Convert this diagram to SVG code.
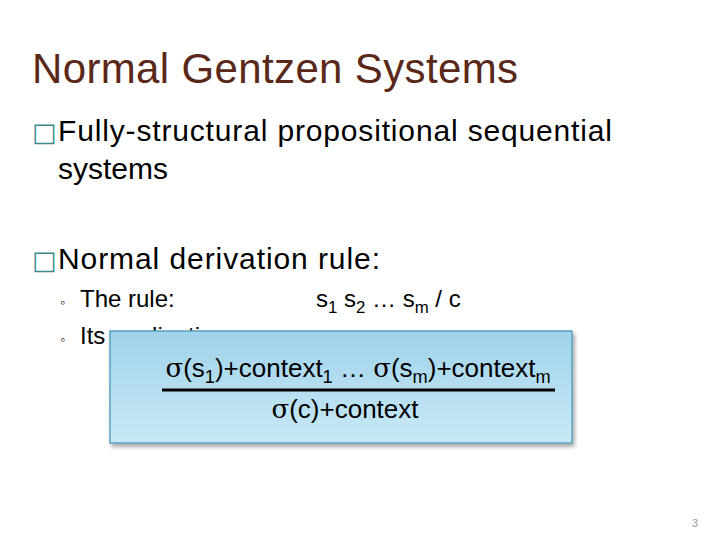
<svg xmlns="http://www.w3.org/2000/svg" width="720" height="540" viewBox="0 0 720 540">
<style>
text{font-family:"Liberation Sans",Arial,sans-serif;fill:#000}
.b{font-size:30px}
.s{font-size:24px}
.q{fill:#3b8a8c}
.sub{font-size:70%}
</style>
<defs>
<linearGradient id="g" x1="0" y1="0" x2="0" y2="1"><stop offset="0" stop-color="#9fd3ea"/><stop offset="1" stop-color="#c9e9f6"/></linearGradient>
<filter id="sh" x="-5%" y="-5%" width="115%" height="120%"><feDropShadow dx="2" dy="3" stdDeviation="2" flood-opacity="0.35"/></filter>
</defs>
<rect width="720" height="540" fill="#fff"/>
<text x="32" y="83" textLength="486" style="font-size:42px;fill:#5a2818">Normal Gentzen Systems</text>
<text class="b" x="32" y="141"><tspan class="q" font-family="DejaVu Sans" font-size="26px">□</tspan><tspan x="58" textLength="554">Fully-structural propositional sequential</tspan></text>
<text class="b" x="58" y="179">systems</text>
<text class="b" x="32" y="269"><tspan class="q" font-family="DejaVu Sans" font-size="26px">□</tspan><tspan x="58" textLength="322">Normal derivation rule:</tspan></text>
<text class="s" x="60" y="307"><tspan font-size="14px">◦</tspan><tspan x="80">The rule:</tspan></text>
<text class="s" x="316" y="307">s<tspan class="sub" dy="6">1</tspan><tspan dy="-6"> s</tspan><tspan class="sub" dy="6">2</tspan><tspan dy="-6"> … s</tspan><tspan class="sub" dy="6">m</tspan><tspan dy="-6"> / c</tspan></text>
<text class="s" x="60" y="344"><tspan font-size="14px">◦</tspan><tspan x="80">Its application:</tspan></text>
<g id="box">
<rect x="110" y="331" width="462" height="112" fill="url(#g)" stroke="#5aa3c0" stroke-width="1.5" filter="url(#sh)"/>
<text x="358" y="377" text-anchor="middle" style="font-size:26px"><tspan font-family="DejaVu Serif">σ</tspan>(s<tspan class="sub" dy="6">1</tspan><tspan dy="-6">)+context</tspan><tspan class="sub" dy="6">1</tspan><tspan dy="-6"> … </tspan><tspan font-family="DejaVu Serif">σ</tspan>(s<tspan class="sub" dy="6">m</tspan><tspan dy="-6">)+context</tspan><tspan class="sub" dy="6">m</tspan></text>
<line x1="162" y1="390" x2="555" y2="390" stroke="#000" stroke-width="3"/>
<text x="345" y="418" text-anchor="middle" style="font-size:26px"><tspan font-family="DejaVu Serif">σ</tspan>(c)+context</text>
</g>
<text x="692" y="527" style="font-size:11px;fill:#999">3</text>
</svg>
